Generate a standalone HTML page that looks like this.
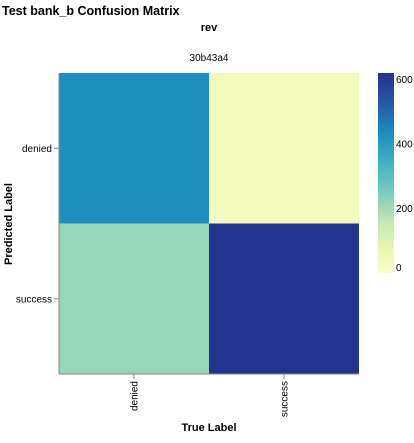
<!DOCTYPE html>
<html><head><meta charset="utf-8"><style>
body{margin:0;background:#fff;font-family:"Liberation Sans","DejaVu Sans",sans-serif}
</style></head><body>
<svg id="c" width="414" height="438" xmlns="http://www.w3.org/2000/svg">
<text x="2" y="15" font-size="12.5" font-weight="bold" fill="#000">Test bank_b Confusion Matrix</text>
<text x="209" y="31" font-size="11" font-weight="bold" text-anchor="middle">rev</text>
<text x="209" y="61" font-size="10" text-anchor="middle">30b43a4</text>
<defs><linearGradient id="g" x1="0" y1="1" x2="0" y2="0"></linearGradient></defs>
<g id="cells"></g>
<g id="axes"></g>
<text x="12" y="224" font-size="11" font-weight="bold" text-anchor="middle" transform="rotate(-90 12 224)">Predicted Label</text>
<text x="209" y="431" font-size="11" font-weight="bold" text-anchor="middle">True Label</text>
<rect x="378" y="73" width="16" height="200" fill="url(#g)"/>
<g id="leg"></g>
</svg>
<script>
const trueLabels=["denied","success"];
const predLabels=["denied","success"];
const values=[[430,35],[215,615]]; // values[pred][true]
const legendTicks=[0,200,400,600];
const vmax=620;
const stops=["#ffffd9","#edf8b1","#c7e9b4","#7fcdbb","#41b6c4","#1d91c0","#225ea8","#253494","#081d58"];
function hex(h){return [1,3,5].map(i=>parseInt(h.substr(i,2),16));}
function color(v){let t=Math.max(0,Math.min(1,v/vmax))*0.85+0.04;let p=t*(stops.length-1),i=Math.min(Math.floor(p),stops.length-2),f=p-i;
const a=hex(stops[i]),b=hex(stops[i+1]);return "rgb("+a.map((x,k)=>Math.round(x+(b[k]-x)*f)).join(",")+")";}
const NS="http://www.w3.org/2000/svg";
const X0=59,Y0=73,W=300,H=301;
const cw=W/trueLabels.length,ch=H/predLabels.length;
const xS=i=>X0+i*cw, yS=j=>Y0+j*ch;
function mk(tag,attrs,parent,txt){const e=document.createElementNS(NS,tag);for(const k in attrs)e.setAttribute(k,attrs[k]);if(txt!=null)e.textContent=txt;parent.appendChild(e);return e;}
const cells=document.getElementById('cells');
predLabels.forEach((p,j)=>trueLabels.forEach((t,i)=>{
 const r=mk('rect',{x:xS(i),y:yS(j),width:cw,height:ch,fill:color(values[j][i])},cells);
 
 
}));
const ax=document.getElementById('axes');
const l1=mk('line',{x1:X0,y1:Y0,x2:X0,y2:Y0+H,stroke:'#888'},ax);

const l2=mk('line',{x1:X0,y1:Y0+H,x2:X0+W,y2:Y0+H,stroke:'#888'},ax);

predLabels.forEach((p,j)=>{const y=yS(j)+ch/2;
 mk('line',{x1:X0-5,y1:y,x2:X0,y2:y,stroke:'#888'},ax);
 const t=mk('text',{x:X0-7,y:y+3.5,'font-size':10,'text-anchor':'end'},ax,p);
 });
trueLabels.forEach((p,i)=>{const x=xS(i)+cw/2;
 mk('line',{x1:x,y1:Y0+H,x2:x,y2:Y0+H+5,stroke:'#888'},ax);
 const t=mk('text',{x:x+3.5,y:Y0+H+7,'font-size':10,'text-anchor':'end',transform:`rotate(-90 ${x+3.5} ${Y0+H+7})`},ax,p);
 });
const g=document.getElementById('g');
for(let k=0;k<=20;k++){mk('stop',{offset:(k/20),'stop-color':color(k/20*vmax)},g);}
const leg=document.getElementById('leg');
legendTicks.forEach(v=>{let y=273-200*v/vmax;y=Math.max(80,Math.min(271,y+3.5));
 const t=mk('text',{x:396,y:y,'font-size':10},leg,String(v));
 });
</script>
</body></html>
